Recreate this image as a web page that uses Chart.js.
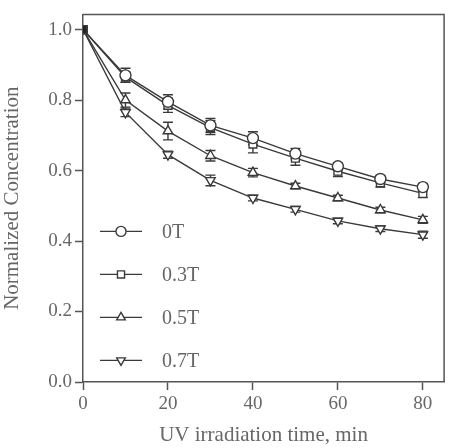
<!DOCTYPE html>
<html>
<head>
<meta charset="utf-8">
<script src="https://cdn.jsdelivr.net/npm/chart.js@4"></script>
<style>
  html, body { margin: 0; padding: 0; background: #fff; }
  #wrap { width: 451px; height: 448px; }
</style>
</head>
<body>
<div id="wrap"><canvas id="concChart"></canvas></div>
<script>
// irradiation time (min)
const time = [0, 10, 20, 30, 40, 50, 60, 70, 80];

// normalized concentration per field strength
const c0T  = [1.0, 0.870, 0.795, 0.728, 0.692, 0.648, 0.612, 0.576, 0.553];
const c03T = [1.0, 0.865, 0.785, 0.722, 0.675, 0.635, 0.598, 0.565, 0.535];
const c05T = [1.0, 0.800, 0.712, 0.642, 0.594, 0.556, 0.522, 0.488, 0.460];
const c07T = [1.0, 0.765, 0.645, 0.572, 0.522, 0.490, 0.457, 0.435, 0.418];

// error bars (+/-)
const e0T  = [0, 0.020, 0.020, 0.020, 0.018, 0.015, 0.010, 0.010, 0.010];
const e03T = [0, 0.015, 0.020, 0.020, 0.025, 0.020, 0.015, 0.012, 0.012];
const e05T = [0, 0.020, 0.025, 0.015, 0.012, 0.008, 0.008, 0.008, 0.010];
const e07T = [0, 0.012, 0.010, 0.015, 0.008, 0.008, 0.008, 0.008, 0.010];

const labels = ['0T', '0.3T', '0.5T', '0.7T'];
const xTicks = [0, 20, 40, 60, 80];
const yTicks = [0, 0.2, 0.4, 0.6, 0.8, 1.0];

const ink = '#3a3a3a';
const axisCol = '#555';
const textCol = '#666';

Chart.defaults.font.family = "'Liberation Serif', 'DejaVu Serif', serif";

function mkSet(label, vals, errs, style, rot) {
    return {
        label: label,
        data: time.map((t, i) => ({ x: t, y: vals[i] })),
        errors: errs,
        borderColor: ink,
        borderWidth: 1.4,
        markerStyle: style,
        pointStyle: ctx => ctx.dataIndex === 0 ? 'rect' : style,
        rotation: rot,
        pointRadius: 5.5,
        pointBorderWidth: 1.4,
        pointBorderColor: ink,
        pointBackgroundColor: ctx => ctx.dataIndex === 0 ? '#222' : '#fff',
        tension: 0,
        fill: false
    };
}

// error bars drawn behind the markers
const errorBars = {
    id: 'errorBars',
    beforeDatasetsDraw(chart) {
        const ctx = chart.ctx;
        const xs = chart.scales.x, ys = chart.scales.y;
        ctx.save();
        ctx.strokeStyle = ink;
        ctx.lineWidth = 1.4;
        chart.data.datasets.forEach(ds => {
            ds.data.forEach((p, i) => {
                const e = ds.errors[i];
                if (!e) return;
                const px = xs.getPixelForValue(p.x);
                const top = ys.getPixelForValue(p.y + e);
                const bot = ys.getPixelForValue(p.y - e);
                ctx.beginPath();
                ctx.moveTo(px, top); ctx.lineTo(px, bot);
                ctx.moveTo(px - 5, top); ctx.lineTo(px + 5, top);
                ctx.moveTo(px - 5, bot); ctx.lineTo(px + 5, bot);
                ctx.stroke();
            });
        });
        ctx.restore();
    }
};

// closed frame (top + right edges)
const frame = {
    id: 'frame',
    afterDraw(chart) {
        const a = chart.chartArea, ctx = chart.ctx;
        ctx.save();
        ctx.strokeStyle = axisCol;
        ctx.lineWidth = 1.5;
        ctx.beginPath();
        ctx.moveTo(a.left, a.top); ctx.lineTo(a.right, a.top); ctx.lineTo(a.right, a.bottom);
        ctx.stroke();
        ctx.restore();
    }
};

// legend inside the plot, line + marker + label
const insideLegend = {
    id: 'insideLegend',
    afterDraw(chart) {
        const a = chart.chartArea, ctx = chart.ctx;
        ctx.save();
        chart.data.datasets.forEach((ds, i) => {
            const y = a.top + 217 + i * 43;
            const x0 = a.left + 17;
            ctx.strokeStyle = ink;
            ctx.lineWidth = 1.4;
            ctx.beginPath();
            ctx.moveTo(x0, y); ctx.lineTo(x0 + 42, y);
            ctx.stroke();
            ctx.fillStyle = '#fff';
            Chart.helpers.drawPoint(ctx, {
                pointStyle: ds.markerStyle, rotation: ds.rotation,
                radius: 5, borderWidth: 1.4
            }, x0 + 21, y);
            ctx.fillStyle = textCol;
            ctx.font = "20px 'Liberation Serif'";
            ctx.textBaseline = 'middle';
            ctx.fillText(ds.label, x0 + 62, y + 1);
        });
        ctx.restore();
    }
};

new Chart(document.getElementById('concChart'), {
    type: 'line',
    data: {
        datasets: [
            mkSet(labels[0], c0T, e0T, 'circle', 0),
            mkSet(labels[1], c03T, e03T, 'rect', 0),
            mkSet(labels[2], c05T, e05T, 'triangle', 0),
            mkSet(labels[3], c07T, e07T, 'triangle', 180)
        ]
    },
    options: {
        responsive: true,
        maintainAspectRatio: false,
        animation: false,
        layout: { padding: { top: 13, right: 2, left: 0, bottom: 0 } },
        plugins: {
            legend: { display: false },
            tooltip: { enabled: false }
        },
        scales: {
            x: {
                type: 'linear',
                min: 0,
                max: 85,
                afterBuildTicks: s => { s.ticks = xTicks.map(v => ({ value: v })); },
                afterFit: s => { s.height = 66; },
                border: { color: axisCol, width: 1.5 },
                grid: { drawOnChartArea: false, tickLength: 8, color: axisCol, tickWidth: 1.5 },
                ticks: { color: textCol, font: { size: 19 }, padding: 3, maxRotation: 0 },
                title: {
                    display: true,
                    text: 'UV irradiation time, min',
                    color: textCol,
                    font: { size: 21 },
                    padding: { top: 8, bottom: 0 }
                }
            },
            y: {
                min: 0,
                max: 1.043,
                afterBuildTicks: s => { s.ticks = yTicks.map(v => ({ value: v })); },
                afterFit: s => { s.width = 83; },
                border: { color: axisCol, width: 1.5 },
                grid: { drawOnChartArea: false, tickLength: 8, color: axisCol, tickWidth: 1.5 },
                ticks: {
                    color: textCol,
                    font: { size: 19 },
                    padding: 3,
                    callback: v => v.toFixed(1)
                },
                title: {
                    display: true,
                    text: 'Normalized Concentration',
                    color: textCol,
                    font: { size: 21 },
                    padding: { top: 0, bottom: 4 }
                }
            }
        }
    },
    plugins: [errorBars, frame, insideLegend]
});
</script>
</body>
</html>
